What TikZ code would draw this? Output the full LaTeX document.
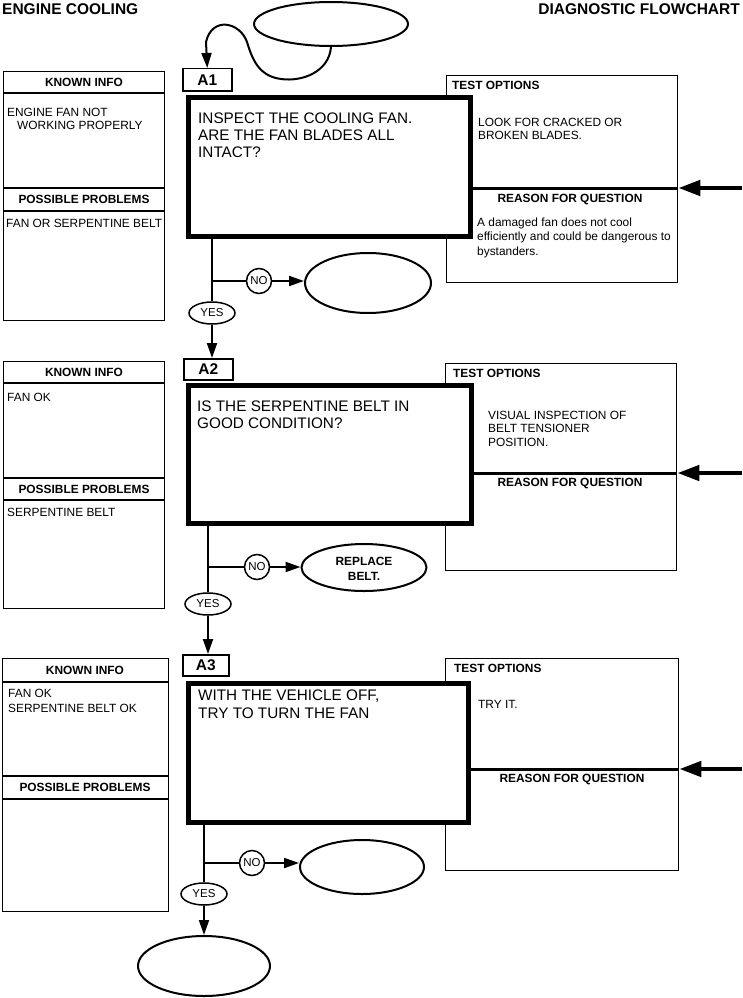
\documentclass[tikz,border=0pt]{standalone}
\usepackage{fontspec}
\setmainfont{Liberation Sans}
\usetikzlibrary{arrows.meta,shapes.geometric}
\tikzset{
  ttl/.style={font=\fontsize{15.5}{17}\selectfont\bfseries, inner sep=0},
  qtext/.style={font=\fontsize{15.3}{17}\selectfont, inner sep=0, align=left, anchor=north west},
  small/.style={font=\fontsize{11.9}{13.5}\selectfont, inner sep=0, align=left, anchor=north west},
  hdr/.style={font=\fontsize{11.9}{13.5}\selectfont\bfseries, inner sep=0},
  panel/.style={draw, line width=1.3pt, inner sep=0, rectangle, anchor=north west},
  thinl/.style={line width=1.3pt},
  midl/.style={line width=3pt},
  qbox/.style={draw, line width=5pt, fill=white, inner sep=0, rectangle, anchor=north west},
  lab/.style={draw, line width=1.5pt, fill=white, inner sep=0, rectangle, anchor=north west, font=\fontsize{15.5}{17}\selectfont\bfseries},
  ell/.style={draw, ellipse, line width=2pt, inner sep=0},
  yesn/.style={draw, ellipse, line width=1.5pt, minimum width=46pt, minimum height=22pt, inner sep=0, fill=white, font=\fontsize{11.5}{12}\selectfont},
  non/.style={draw, circle, line width=1.5pt, minimum size=25pt, inner sep=0, font=\fontsize{11.5}{12}\selectfont},
  flowl/.style={line width=2pt},
  flowa/.style={line width=2pt, -{Triangle[length=15pt,width=10pt]}},
  bigarr/.style={line width=4.5pt, -{Triangle[length=22pt,width=15pt]}}
}
\begin{document}
\begin{tikzpicture}[x=1pt,y=-1pt]
\useasboundingbox (0,0) rectangle (742,998);
% titles
\node[ttl, anchor=west] (t1) at (2,9) {ENGINE COOLING};
\node[ttl, anchor=east] (t2) at (740,9) {DIAGNOSTIC FLOWCHART};

% ---------- A1 ----------
\node[panel, minimum width=161pt, minimum height=249pt] (kp1) at (3,71) {};
\draw[thinl] (kp1.west |- 0,93) -- (kp1.east |- 0,93);
\draw[thinl] (kp1.west |- 0,188) -- (kp1.east |- 0,188);
\draw[thinl] (kp1.west |- 0,211) -- (kp1.east |- 0,211);
\node[hdr] (kh1) at (84,82) {KNOWN INFO};
\node[hdr] (ph1) at (84,199.5) {POSSIBLE PROBLEMS};
\node[small] (kt1) at (7,107.5) {ENGINE FAN NOT\\\hspace*{10pt}WORKING PROPERLY};
\node[small] (pt1) at (6,218.5) {FAN OR SERPENTINE BELT};

\node[panel, minimum width=231pt, minimum height=207pt] (tp1) at (446,75) {};
\draw[midl] (tp1.west |- 0,188) -- (tp1.east |- 0,188);
\node[hdr, anchor=west] (to1) at (452,85) {TEST OPTIONS};
\node[small] (tt1) at (478,117.5) {LOOK FOR CRACKED OR\\BROKEN BLADES.};
\node[hdr] (rq1) at (570,200) {REASON FOR QUESTION};
\node[small, font=\fontsize{11.9}{14.5}\selectfont] (rt1) at (477,217.5) {A damaged fan does not cool\\efficiently and could be dangerous to\\bystanders.};
\coordinate (r1) at (742,188);
\draw[bigarr] (r1) -- (tp1.east |- r1);

\node[qbox, minimum width=282pt, minimum height=139pt] (q1) at (185.5,94.5) {};
\node[qtext] (qt1) at (198,112.5) {INSPECT THE COOLING FAN.\\ARE THE FAN BLADES ALL\\INTACT?};
\node[lab, minimum width=49pt, minimum height=22pt] (l1) at (182,68) {A1};

\node[ell, minimum width=154pt, minimum height=44pt] (top) at (331,24) {};
\draw[flowa] (top.south) .. controls (329,72) and (302,82) .. (281,79)
   .. controls (258,76) and (252,58) .. (247,42)
   .. controls (240,22) and (212,16) .. (206,42) -- (l1.north);

\node[yesn] (y1) at (212,313) {YES};
\node[non] (n1) at (259,281) {NO};
\node[ell, minimum width=126pt, minimum height=60pt] (e1) at (368,283) {};
\draw[flowl] (y1 |- q1.south) -- (y1.north);
\draw[flowl] (y1 |- n1) -- (n1.west);
\draw[flowa] (n1.east) -- (n1.east -| e1.west);

% ---------- A2 ----------
\node[panel, minimum width=161pt, minimum height=247pt] (kp2) at (3,361) {};
\draw[thinl] (kp2.west |- 0,383) -- (kp2.east |- 0,383);
\draw[thinl] (kp2.west |- 0,478) -- (kp2.east |- 0,478);
\draw[thinl] (kp2.west |- 0,500) -- (kp2.east |- 0,500);
\node[hdr] (kh2) at (84,372) {KNOWN INFO};
\node[hdr] (ph2) at (84,489) {POSSIBLE PROBLEMS};
\node[small] (kt2) at (7,392.5) {FAN OK};
\node[small] (pt2) at (7,507.5) {SERPENTINE BELT};

\node[panel, minimum width=231pt, minimum height=207pt] (tp2) at (445,363) {};
\draw[midl] (tp2.west |- 0,473) -- (tp2.east |- 0,473);
\node[hdr, anchor=west] (to2) at (453,373) {TEST OPTIONS};
\node[small] (tt2) at (488,410.5) {VISUAL INSPECTION OF\\BELT TENSIONER\\POSITION.};
\node[hdr] (rq2) at (570,484) {REASON FOR QUESTION};
\coordinate (r2) at (742,473);
\draw[bigarr] (r2) -- (tp2.east |- r2);

\node[qbox, minimum width=283pt, minimum height=138pt] (q2) at (185.5,382.5) {};
\node[qtext] (qt2) at (197,401) {IS THE SERPENTINE BELT IN\\GOOD CONDITION?};
\node[lab, minimum width=49pt, minimum height=21pt] (l2) at (183,358) {A2};
\draw[flowa] (y1.south) -- (y1 |- l2.north);

\node[yesn] (y2) at (208,604) {YES};
\node[non] (n2) at (257,567) {NO};
\node[ell, minimum width=125pt, minimum height=47pt] (e2) at (364,567.5) {};
\node[font=\fontsize{11.9}{15.5}\selectfont\bfseries, align=center, inner sep=0] (e2t) at (e2.center) [yshift=-1.5pt] {REPLACE\\BELT.};
\draw[flowl] (y2 |- q2.south) -- (y2.north);
\draw[flowl] (y2 |- n2) -- (n2.west);
\draw[flowa] (n2.east) -- (n2.east -| e2.west);

% ---------- A3 ----------
\node[panel, minimum width=166pt, minimum height=253pt] (kp3) at (2,658) {};
\draw[thinl] (kp3.west |- 0,682) -- (kp3.east |- 0,682);
\draw[thinl] (kp3.west |- 0,776) -- (kp3.east |- 0,776);
\draw[thinl] (kp3.west |- 0,799) -- (kp3.east |- 0,799);
\node[hdr] (kh3) at (85,670) {KNOWN INFO};
\node[hdr] (ph3) at (85,787.5) {POSSIBLE PROBLEMS};
\node[small, font=\fontsize{11.9}{15.5}\selectfont] (kt3) at (8,688.5) {FAN OK\\SERPENTINE BELT OK};

\node[panel, minimum width=233pt, minimum height=212pt] (tp3) at (445,658) {};
\draw[midl] (tp3.west |- 0,769) -- (tp3.east |- 0,769);
\node[hdr, anchor=west] (to3) at (454,668) {TEST OPTIONS};
\node[small] (tt3) at (478,700.5) {TRY IT.};
\node[hdr] (rq3) at (572,780) {REASON FOR QUESTION};
\coordinate (r3) at (742,769);
\draw[bigarr] (r3) -- (tp3.east |- r3);

\node[qbox, minimum width=280pt, minimum height=139pt] (q3) at (185.5,680.5) {};
\node[qtext, font=\fontsize{15.3}{18}\selectfont] (qt3) at (198,689.5) {WITH THE VEHICLE OFF,\\TRY TO TURN THE FAN};
\node[lab, minimum width=46pt, minimum height=21pt] (l3) at (182,654) {A3};
\draw[flowa] (y2.south) -- (y2 |- l3.north);

\node[yesn] (y3) at (204,894) {YES};
\node[non] (n3) at (252,863) {NO};
\node[ell, minimum width=124pt, minimum height=54pt] (e3) at (362,867) {};
\node[ell, minimum width=132pt, minimum height=60pt] (eb) at (204,966) {};
\draw[flowl] (y3 |- q3.south) -- (y3.north);
\draw[flowl] (y3 |- n3) -- (n3.west);
\draw[flowa] (n3.east) -- (n3.east -| e3.west);
\draw[flowa] (y3.south) -- (eb.north);
\end{tikzpicture}
\end{document}
